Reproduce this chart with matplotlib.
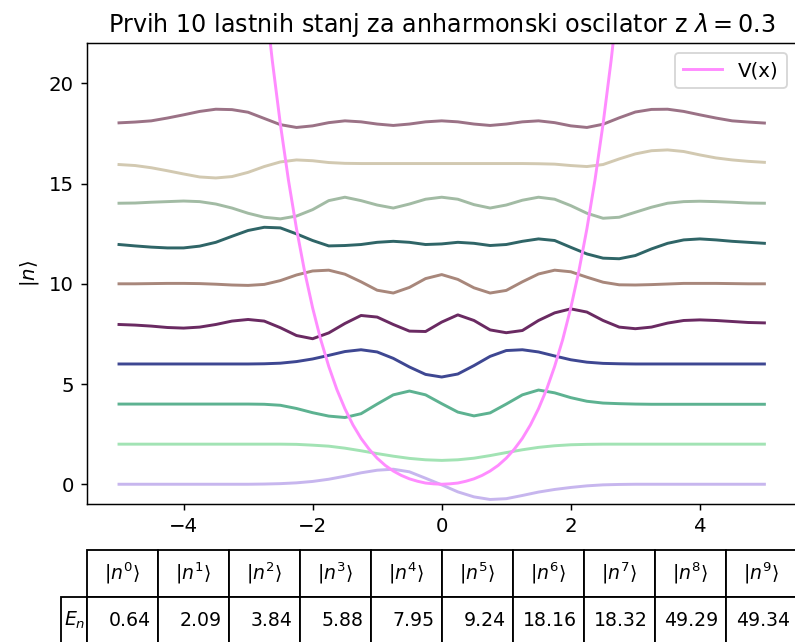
import numpy as np
import matplotlib
matplotlib.use("Agg")
import matplotlib.pyplot as plt

# ---- data ----
x_grid = np.linspace(-5, 5, 41)          # sample positions of the eigenstates
offsets = [0, 2, 4, 6, 8, 10, 12, 14, 16, 18]

psi0 = [0, 0, 0, 0, 0, 0, 0, 0, 0, 0.01, 0.03, 0.07, 0.14, 0.25, 0.40, 0.57, 0.70, 0.75, 0.62, 0.30,
        -0.03, -0.38, -0.63, -0.76, -0.72, -0.56, -0.39, -0.26, -0.16, -0.08, -0.03, -0.01,
        0, 0, 0, 0, 0, 0, 0, 0, 0]
psi1 = [0, 0, 0, 0, 0, 0, 0, 0, 0, 0, 0, -0.01, -0.05, -0.10, -0.20, -0.33, -0.47, -0.60, -0.71, -0.78,
        -0.81, -0.78, -0.70, -0.57, -0.42, -0.28, -0.16, -0.08, -0.03, -0.01,
        0, 0, 0, 0, 0, 0, 0, 0, 0, 0, 0]
psi2 = [0, 0, 0, 0, 0, 0, 0, 0, 0, -0.01, -0.06, -0.22, -0.43, -0.60, -0.67, -0.48, 0.0, 0.46, 0.65, 0.46,
        0.02, -0.40, -0.59, -0.44, 0.0, 0.46, 0.70, 0.56, 0.32, 0.14, 0.05, 0.02, 0.0,
        -0.01, -0.01, -0.01, -0.01, -0.01, -0.01, -0.01, -0.01]
psi3 = [0, 0, 0, 0, 0, 0, 0, 0, 0, 0.01, 0.04, 0.12, 0.25, 0.43, 0.62, 0.71, 0.60, 0.28, -0.15, -0.52,
        -0.65, -0.50, -0.08, 0.38, 0.67, 0.71, 0.60, 0.40, 0.21, 0.09, 0.03, 0.01,
        0, 0, 0, 0, 0, 0, 0, 0, 0]
psi4 = [-0.03, -0.06, -0.11, -0.18, -0.21, -0.16, -0.03, 0.14, 0.22, 0.14, -0.19, -0.58, -0.74, -0.45,
        0.02, 0.42, 0.34, -0.03, -0.36, -0.38, 0.09, 0.45, 0.17, -0.30, -0.44, -0.33, 0.17, 0.55,
        0.75, 0.59, 0.17, -0.16, -0.24, -0.16, 0.04, 0.17, 0.20, 0.17, 0.12, 0.07, 0.05]
psi5 = [0, 0, 0.01, 0.02, 0.02, 0.01, -0.02, -0.06, -0.08, -0.03, 0.16, 0.44, 0.64, 0.68, 0.48, 0.10,
        -0.32, -0.46, -0.18, 0.26, 0.46, 0.22, -0.20, -0.46, -0.33, 0.10, 0.49, 0.68, 0.60, 0.33,
        0.08, -0.05, -0.06, -0.04, -0.01, 0.02, 0.02, 0.02, 0.01, 0, 0]
psi6 = [-0.04, -0.11, -0.17, -0.21, -0.21, -0.12, 0.07, 0.37, 0.66, 0.82, 0.79, 0.49, 0.16, -0.11,
        -0.09, -0.04, 0.07, 0.12, 0.07, -0.04, -0.01, 0.07, 0.02, -0.09, -0.04, 0.12, 0.24, 0.16,
        -0.18, -0.51, -0.72, -0.75, -0.59, -0.26, 0.02, 0.19, 0.24, 0.19, 0.12, 0.07, 0.02]
psi7 = [0.02, 0.03, 0.07, 0.10, 0.13, 0.10, -0.02, -0.22, -0.48, -0.68, -0.76, -0.62, -0.30, 0.15,
        0.32, 0.15, -0.07, -0.22, -0.02, 0.22, 0.32, 0.22, -0.05, -0.22, -0.07, 0.17, 0.32, 0.22,
        -0.10, -0.48, -0.73, -0.68, -0.43, -0.18, 0.02, 0.10, 0.12, 0.10, 0.07, 0.03, 0.02]
psi8 = [-0.05, -0.10, -0.21, -0.36, -0.52, -0.67, -0.72, -0.65, -0.44, -0.15, 0.08, 0.18, 0.14, 0.05,
        0.01, 0, 0, 0, 0, 0, 0, 0, 0, 0, 0, 0, -0.01, -0.03, -0.10, -0.15, -0.05, 0.23, 0.48, 0.64,
        0.68, 0.60, 0.43, 0.28, 0.18, 0.11, 0.06]
psi9 = [0.03, 0.07, 0.13, 0.27, 0.43, 0.60, 0.71, 0.69, 0.56, 0.25, -0.06, -0.20, -0.12, 0.04, 0.13,
        0.08, -0.03, -0.10, -0.03, 0.08, 0.13, 0.08, -0.03, -0.10, -0.03, 0.08, 0.13, 0.04, -0.12,
        -0.20, -0.04, 0.28, 0.57, 0.70, 0.71, 0.60, 0.43, 0.27, 0.13, 0.07, 0.02]
states = [psi0, psi1, psi2, psi3, psi4, psi5, psi6, psi7, psi8, psi9]

# potential V(x) read along the visible part of the curve
v_x = [-2.75, -2.625, -2.5, -2.375, -2.25, -2.125, -2.0, -1.875, -1.75, -1.625, -1.5, -1.375,
       -1.25, -1.125, -1.0, -0.875, -0.75, -0.625, -0.5, -0.375, -0.25, -0.125, 0.0,
       0.125, 0.25, 0.375, 0.5, 0.625, 0.75, 0.875, 1.0, 1.125, 1.25, 1.375, 1.5, 1.625,
       1.75, 1.875, 2.0, 2.125, 2.25, 2.375, 2.5, 2.625, 2.75]
v_half = [0.0, 0.02, 0.06, 0.15, 0.27, 0.44, 0.66, 0.94, 1.30, 1.75, 2.29, 2.96, 3.77, 4.73,
          5.88, 7.22, 8.80, 10.63, 12.75, 15.18, 17.97, 21.14, 24.72]
v_y = v_half[::-1] + v_half[1:]

energies = ["0.64", "2.09", "3.84", "5.88", "7.95", "9.24", "18.16", "18.32", "49.29", "49.34"]
col_labels = [r"$|n^{%d}\rangle$" % i for i in range(10)]
row_labels = [r"$E_n$"]

colors = ["#c7b6ee", "#a2e3b4", "#5db291", "#3e4792", "#6a2a62",
          "#a8877b", "#2f6567", "#a2bba4", "#d2c9b1", "#9b7286"]

# ---- figure ----
plt.rcParams["font.size"] = 10.8
dpi = 132
fig = plt.figure(figsize=(795 / dpi, 642 / dpi), dpi=dpi)
ax = fig.add_axes([0.1091, 0.2145, 0.893, 0.7181])

for psi, off, c in zip(states, offsets, colors):
    ax.plot(x_grid, np.array(psi) + off, color=c, lw=1.6)

ax.plot(v_x, v_y, color="#ff8cff", lw=1.6, label="V(x)")

ax.set_xlim(-5.5, 5.5)
ax.set_ylim(-1, 22)
ax.set_ylabel(r"$|n\rangle$")
ax.set_title(r"Prvih 10 lastnih stanj za anharmonski oscilator z $\lambda = 0.3$", fontsize=13)
ax.legend(loc="upper right")

tbl = ax.table(cellText=[energies], rowLabels=row_labels, colLabels=col_labels,
               bbox=[0, -0.303, 1, 0.204])
tbl.auto_set_font_size(False)
tbl.set_fontsize(10.3)

fig.savefig("out.png", dpi=dpi)
